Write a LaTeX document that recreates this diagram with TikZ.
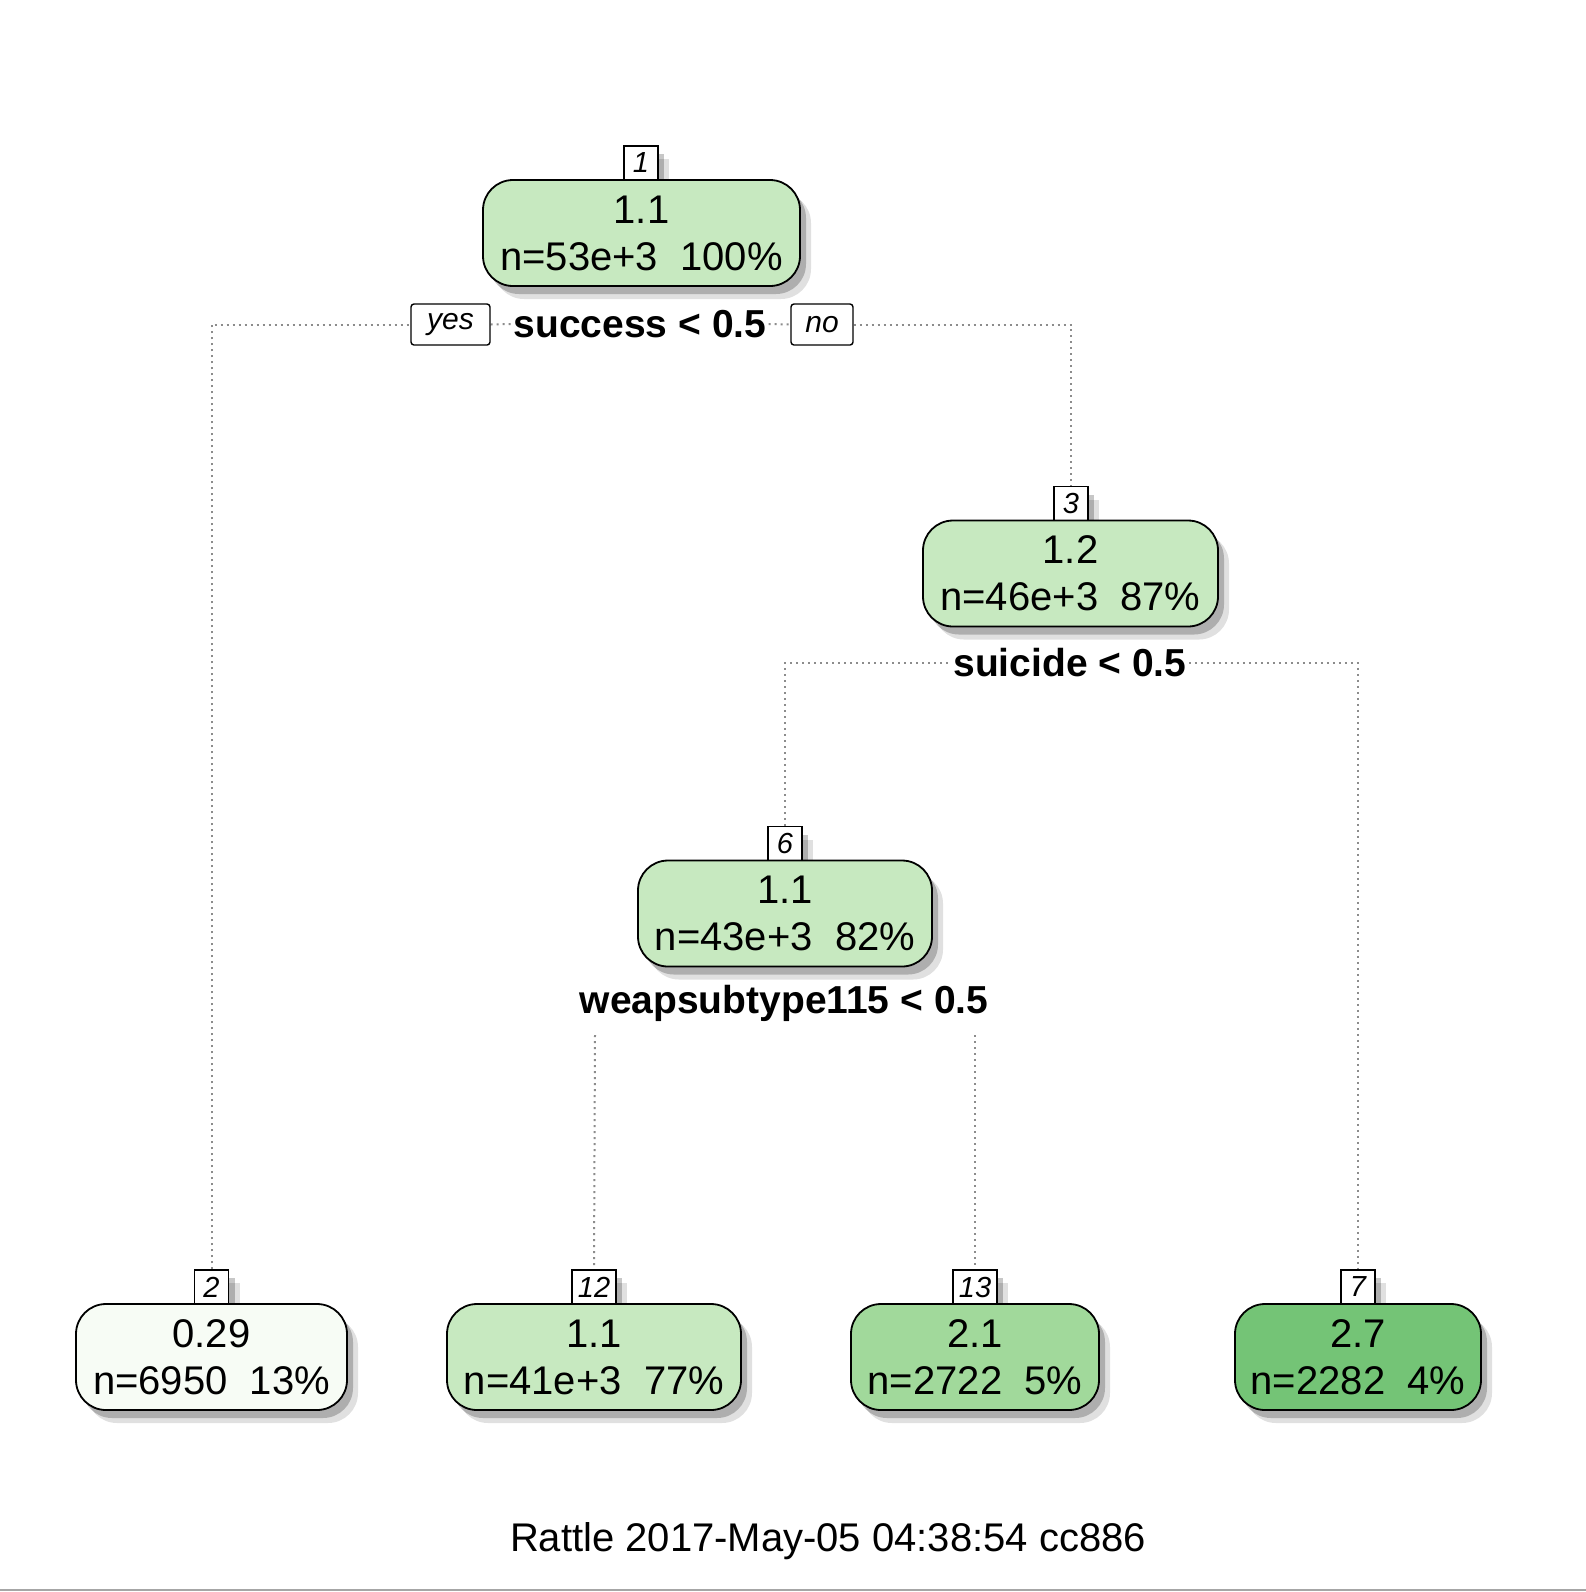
\documentclass[tikz,border=0pt]{standalone}
\usepackage{fontspec}
\setmainfont{Liberation Sans}
\usetikzlibrary{shadows}
\definecolor{gA}{HTML}{C7E9C0}
\definecolor{gB}{HTML}{A1D99B}
\definecolor{gC}{HTML}{74C476}
\definecolor{gD}{HTML}{F7FCF5}
\pgfdeclarelayer{bg}
\pgfsetlayers{bg,main}
\begin{document}
\begin{tikzpicture}[x=0.5pt,y=-0.5pt,
  shad/.style={drop shadow={shadow xshift=3pt,shadow yshift=-4pt,opacity=.22,fill=black},
               drop shadow={shadow xshift=5.5pt,shadow yshift=-6.5pt,opacity=.12,fill=black}},
  treenode/.style={draw=black,line width=0.9pt,rounded corners=15pt,align=center,
     font=\fontsize{20}{23.5}\selectfont,inner sep=0pt,minimum height=53pt,shad},
  numbox/.style={draw=black,fill=white,line width=0.7pt,minimum width=17pt,minimum height=17pt,
     inner ysep=0pt,inner xsep=3pt,font=\itshape\fontsize{14.5}{14.5}\selectfont,shad},
  splitlab/.style={font=\bfseries\fontsize{19.5}{19.5}\selectfont,fill=white,inner sep=1pt},
  yn/.style={draw=black,fill=white,rounded corners=1.5pt,line width=0.7pt,minimum height=20.5pt,
     font=\itshape\fontsize{15}{15}\selectfont,inner sep=0pt},
  conn/.style={draw=black!45,line width=1pt,dash pattern=on 1pt off 2pt}]
\useasboundingbox (0,0) rectangle (1586,1592);

% number labels (drawn first so main boxes cover their shadows)
\node[numbox] (l1) at (641,163) {1};
\node[numbox] (l3) at (1071,503.5) {3};
\node[numbox] (l6) at (785,843.5) {6};
\node[numbox] (l2) at (211.5,1287) {2};
\node[numbox] (l12) at (594,1287) {12};
\node[numbox] (l13) at (975,1287) {13};
\node[numbox] (l7) at (1358,1287) {7};

% tree nodes
\node[treenode,fill=gA,minimum width=158.5pt] (n1) at (641.5,233) {1.1\\n=53e+3~~100\%};
\node[treenode,fill=gA,minimum width=147.5pt] (n3) at (1070.5,573.5) {1.2\\n=46e+3~~87\%};
\node[treenode,fill=gA,minimum width=147pt] (n6) at (785,913.5) {1.1\\n=43e+3~~82\%};
\node[treenode,fill=gD,minimum width=135.5pt] (n2) at (211.5,1357) {0.29\\n=6950~~13\%};
\node[treenode,fill=gA,minimum width=147pt] (n12) at (594,1357) {1.1\\n=41e+3~~77\%};
\node[treenode,fill=gB,minimum width=124pt] (n13) at (975,1357) {2.1\\n=2722~~5\%};
\node[treenode,fill=gC,minimum width=123pt] (n7) at (1358,1357) {2.7\\n=2282~~4\%};

% split labels
\node[splitlab] (s1) at (640,324) {success < 0.5};
\node[yn,minimum width=39.5pt] (yes) at (450.5,324.5) {yes};
\node[yn,minimum width=31pt] (no) at (822,324.5) {no};
\node[splitlab] (s3) at (1070,663) {suicide < 0.5};
\node[splitlab] (s6) at (784,1003) {weapsubtype115 < 0.5};
\coordinate (a12) at (595,1035);
\coordinate (a13) at (975,1035);

% footer
\node[font=\fontsize{20}{20}\selectfont,inner sep=0pt] (foot) at (828,1541) {Rattle 2017-May-05 04:38:54 cc886};

\begin{pgfonlayer}{bg}
\fill[white] (0,0) rectangle (1586,1592);
\draw[black!35,line width=1pt] (0,1590) -- (1586,1590);
\draw[conn] (l2.north) |- (yes.west);
\draw[conn] (yes.east) -- (s1.west);
\draw[conn] (s1.east) -- (no.west);
\draw[conn] (no.east) -| (l3.north);
\draw[conn] (l6.north) |- (s3.west);
\draw[conn] (s3.east) -| (l7.north);
\draw[conn] (a12) -- (l12.north);
\draw[conn] (a13) -- (l13.north);
\end{pgfonlayer}
\end{tikzpicture}
\end{document}
